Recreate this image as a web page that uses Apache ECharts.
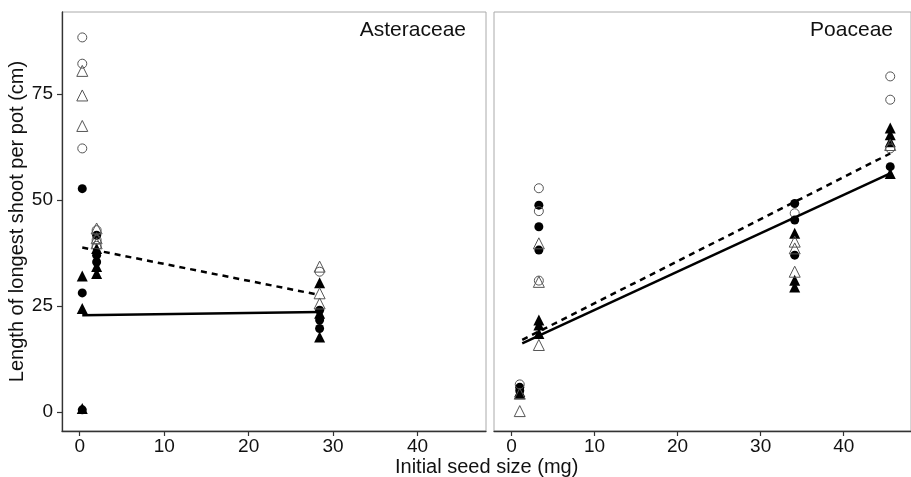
<!DOCTYPE html>
<html>
<head>
<meta charset="utf-8">
<script src="https://cdn.jsdelivr.net/npm/echarts@6/dist/echarts.min.js"></script>
<style>
  html, body { margin: 0; padding: 0; background: #fff; }
  #chart { width: 911px; height: 477px; }
</style>
</head>
<body>
<div id="chart"></div>
<script>
// tick labels
var xTicks = [0, 10, 20, 30, 40];
var yTicks = [0, 25, 50, 75];
var panelNames = ['Asteraceae', 'Poaceae'];

// Asteraceae points [seed size, shoot length]
var astOpenCircle = [[0.3, 88.4], [0.3, 82.2], [0.3, 62.2], [2.0, 42.9], [2.0, 40.6], [2.0, 39.2], [28.4, 33.1]];
var astOpenTri = [[0.3, 80.5], [0.3, 74.7], [0.3, 67.5], [2.0, 43.3], [2.0, 41.0], [2.0, 39.8], [28.4, 34.3], [28.4, 28.0], [28.4, 25.6]];
var astFillCircle = [[0.3, 52.7], [0.3, 28.1], [0.3, 0.5], [2.0, 41.7], [2.0, 37.0], [2.0, 35.4], [28.4, 24.0], [28.4, 21.7], [28.4, 19.7]];
var astFillTri = [[0.3, 32.1], [0.3, 24.4], [0.3, 0.8], [2.0, 38.6], [2.0, 34.3], [2.0, 32.7], [28.4, 30.5], [28.4, 23.3], [28.4, 17.7]];
var astDashed = [[0.3, 38.8], [28.4, 27.6]];
var astSolid = [[0.3, 22.8], [28.4, 23.6]];

// Poaceae points
var poaOpenCircle = [[1.0, 6.5], [3.3, 52.8], [3.3, 47.4], [3.3, 31.0], [34.1, 46.9], [45.6, 79.2], [45.6, 73.7], [45.6, 62.2]];
var poaOpenTri = [[1.0, 4.3], [1.0, 0.2], [3.3, 39.8], [3.3, 30.7], [3.3, 15.8], [34.1, 40.2], [34.1, 38.6], [34.1, 33.1], [45.6, 63.0]];
var poaFillCircle = [[1.0, 5.8], [1.0, 5.0], [3.3, 48.8], [3.3, 43.7], [3.3, 38.2], [34.1, 49.2], [34.1, 45.3], [34.1, 37.0], [45.6, 57.9]];
var poaFillTri = [[1.0, 4.8], [1.0, 4.4], [3.3, 21.7], [3.3, 20.5], [3.3, 18.5], [34.1, 42.2], [34.1, 31.1], [34.1, 29.5], [45.6, 67.0], [45.6, 65.4], [45.6, 63.8], [45.6, 56.3]];
var poaDashed = [[1.3, 17.0], [45.6, 61.0]];
var poaSolid = [[1.3, 16.2], [45.6, 56.3]];

var chart = echarts.init(document.getElementById('chart'));
var font = 'Liberation Sans, Arial';

function xAxisFor(i) {
  return {
    type: 'value', gridIndex: i, min: -2.1, max: 48.1,
    splitLine: { show: false },
    axisLine: { show: true, onZero: false, lineStyle: { color: '#333', width: 1.3 } },
    axisTick: { show: true, customValues: xTicks, length: 5, lineStyle: { color: '#333', width: 1.2 } },
    axisLabel: { customValues: xTicks, color: '#111', fontSize: 19, fontFamily: font, margin: 6 }
  };
}

function yAxisFor(i) {
  var show = i === 0;
  return {
    type: 'value', gridIndex: i, min: -4.5, max: 94.4,
    splitLine: { show: false },
    axisLine: { show: show, onZero: false, lineStyle: { color: '#333', width: 1.3 } },
    axisTick: { show: show, customValues: yTicks, length: 5, lineStyle: { color: '#333', width: 1.2 } },
    axisLabel: { show: show, customValues: yTicks, color: '#111', fontSize: 19, fontFamily: font, margin: 9 },
    name: show ? 'Length of longest shoot per pot (cm)' : '',
    nameLocation: 'middle', nameGap: 30,
    nameTextStyle: { color: '#111', fontSize: 20, fontFamily: font }
  };
}

function pts(data, i, symbol, filled) {
  return {
    type: 'scatter', xAxisIndex: i, yAxisIndex: i, data: data,
    symbol: symbol, symbolSize: symbol === 'triangle' ? 11 : 9,
    itemStyle: filled
      ? { color: '#000', opacity: 1 }
      : { color: 'rgba(0,0,0,0)', borderColor: '#555', borderWidth: 1, opacity: 1 }
  };
}

function fit(data, i, dashed) {
  return {
    type: 'line', xAxisIndex: i, yAxisIndex: i, data: data,
    showSymbol: false, silent: true, z: 3,
    lineStyle: { color: '#000', width: 2.5, type: dashed ? [6, 5] : 'solid' }
  };
}

chart.setOption({
  animation: false,
  backgroundColor: '#fff',
  grid: [
    { left: 62, top: 12, width: 424, height: 419, show: true, borderColor: '#aaa', borderWidth: 1 },
    { left: 494, top: 12, width: 422, height: 419, show: true, borderColor: '#aaa', borderWidth: 1 }
  ],
  xAxis: [xAxisFor(0), xAxisFor(1)],
  yAxis: [yAxisFor(0), yAxisFor(1)],
  graphic: [
    { type: 'text', right: 911 - 466, top: 20, style: { text: panelNames[0], fill: '#111', fontSize: 21, fontFamily: font } },
    { type: 'text', right: 911 - 893, top: 20, style: { text: panelNames[1], fill: '#111', fontSize: 21, fontFamily: font } },
    { type: 'text', left: 395, top: 457, style: { text: 'Initial seed size (mg)', fill: '#111', fontSize: 20, fontFamily: font } }
  ],
  series: [
    pts(astFillCircle, 0, 'circle', true),
    pts(astFillTri, 0, 'triangle', true),
    pts(astOpenCircle, 0, 'circle', false),
    pts(astOpenTri, 0, 'triangle', false),
    fit(astDashed, 0, true),
    fit(astSolid, 0, false),
    pts(poaFillCircle, 1, 'circle', true),
    pts(poaFillTri, 1, 'triangle', true),
    pts(poaOpenCircle, 1, 'circle', false),
    pts(poaOpenTri, 1, 'triangle', false),
    fit(poaDashed, 1, true),
    fit(poaSolid, 1, false)
  ]
});
</script>
</body>
</html>
